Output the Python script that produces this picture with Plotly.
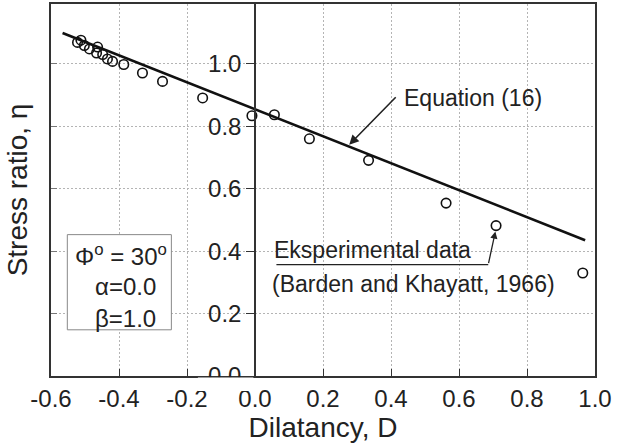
import plotly.graph_objects as go

# Experimental data (Barden and Khayatt, 1966)
exp_D = [-0.522, -0.512, -0.502, -0.487, -0.463, -0.466, -0.448, -0.434, -0.419,
         -0.386, -0.331, -0.272, -0.154, -0.009, 0.057, 0.160, 0.334, 0.562, 0.709, 0.964]
exp_eta = [1.069, 1.076, 1.059, 1.048, 1.054, 1.035, 1.030, 1.016, 1.008,
           0.998, 0.971, 0.944, 0.891, 0.834, 0.837, 0.760, 0.691, 0.554, 0.482, 0.330]

# Equation (16) line
eq_D = [-0.566, 0.971]
eq_eta = [1.099, 0.435]

x_ticks = [-0.6, -0.4, -0.2, 0.0, 0.2, 0.4, 0.6, 0.8, 1.0]
x_ticktext = ["-0.6", "-0.4", "-0.2", "0.0", "0.2", "0.4", "0.6", "0.8", "1.0"]
y_ticks = [0.0, 0.2, 0.4, 0.6, 0.8, 1.0]
y_ticktext = ["0.0", "0.2", "0.4", "0.6", "0.8", "1.0"]

FONT = "Arial, Liberation Sans, sans-serif"
INK = "#222222"
AX = "#333333"
GRID = "#b4b4b4"
YR = [0, 1.192]

fig = go.Figure()
fig.add_trace(go.Scatter(x=eq_D, y=eq_eta, mode="lines", yaxis="y2",
                         line=dict(color="#111111", width=2.6), showlegend=False,
                         hoverinfo="skip"))
fig.add_trace(go.Scatter(x=exp_D, y=exp_eta, mode="markers",
                         marker=dict(symbol="circle-open", size=9.5, color="#111111",
                                     line=dict(width=1.6, color="#111111")),
                         showlegend=False))

fig.update_layout(
    width=623, height=448,
    margin=dict(l=51, r=28, t=4, b=72, autoexpand=False),
    paper_bgcolor="white", plot_bgcolor="white",
    font=dict(family=FONT, color=INK, size=23),
    xaxis=dict(range=[-0.6, 1.0], domain=[0, 1], tickvals=x_ticks, ticktext=x_ticktext,
               automargin=False,
               ticks="inside", ticklen=7, tickcolor=AX, tickwidth=1,
               showline=True, linecolor=AX, linewidth=2, mirror=True,
               showgrid=True, gridcolor=GRID, griddash="2px,2px", gridwidth=1,
               zeroline=False, tickfont=dict(size=24, color=INK),
               title=dict(text="Dilatancy, D", font=dict(size=28, color=INK), standoff=6)),
    yaxis=dict(range=YR, tickvals=y_ticks, showticklabels=False, automargin=False,
               ticks="inside", ticklen=6, tickcolor="#777777",
               showline=True, linecolor=AX, linewidth=2, mirror=True,
               showgrid=True, gridcolor=GRID, griddash="2px,2px", gridwidth=1,
               zeroline=False,
               title=dict(text="Stress ratio, η", font=dict(size=28, color=INK), standoff=13)),
    yaxis2=dict(range=YR, overlaying="y", anchor="free", position=0.375, side="left",
                automargin=False,
                tickvals=y_ticks, ticktext=y_ticktext, ticks="outside", ticklen=8,
                tickcolor=AX, showline=True, linecolor=AX, linewidth=1.5,
                showgrid=False, zeroline=False, tickfont=dict(size=24, color=INK)),
)

shapes = [
    # hide lower half of the "0.0" y tick label (clipped in the original)
    dict(type="rect", xref="paper", yref="paper", x0=0.27, x1=0.372, y0=-0.04, y1=-0.004,
         fillcolor="white", line=dict(width=0), layer="above"),
    # parameter box
    dict(type="rect", xref="x", yref="y", x0=-0.552, x1=-0.246, y0=0.148, y1=0.453,
         fillcolor="white", line=dict(color="#888888", width=1), layer="above"),
    # underline under "Eksperimental data"
    dict(type="line", xref="x", yref="y", x0=0.063, x1=0.686, y0=0.357, y1=0.357,
         line=dict(color=INK, width=1.3), layer="above"),
]
fig.update_layout(shapes=shapes)

ann = [
    dict(x=0.277, y=0.741, xref="x", yref="y", ax=48, ay=-49, text="", showarrow=True,
         arrowhead=2, arrowsize=1.2, arrowwidth=1.6, arrowcolor=INK),
    dict(x=0.642, y=0.892, xref="x", yref="y", text="Equation (16)", showarrow=False,
         font=dict(size=23, color=INK)),
    dict(x=0.707, y=0.463, xref="x", yref="y", ax=0.686, ay=0.357, axref="x", ayref="y",
         text="", showarrow=True, arrowhead=2, arrowsize=1.1, arrowwidth=1.3, arrowcolor=INK),
    dict(x=0.345, y=0.405, xref="x", yref="y", text="Eksperimental data", showarrow=False,
         font=dict(size=23, color=INK)),
    dict(x=0.467, y=0.296, xref="x", yref="y", text="(Barden and Khayatt, 1966)",
         showarrow=False, font=dict(size=23, color=INK)),
    dict(x=-0.393, y=0.389, xref="x", yref="y", text="Φ<sup>o</sup> = 30<sup>o</sup>",
         showarrow=False, font=dict(size=24, color=INK)),
    dict(x=-0.381, y=0.287, xref="x", yref="y", text="α=0.0", showarrow=False,
         font=dict(size=24, color=INK)),
    dict(x=-0.381, y=0.185, xref="x", yref="y", text="β=1.0", showarrow=False,
         font=dict(size=24, color=INK)),
]
fig.update_layout(annotations=ann)

fig.write_html("out.html", config={"displayModeBar": False},
               post_script="document.body.style.margin='0';document.body.style.padding='0';")
